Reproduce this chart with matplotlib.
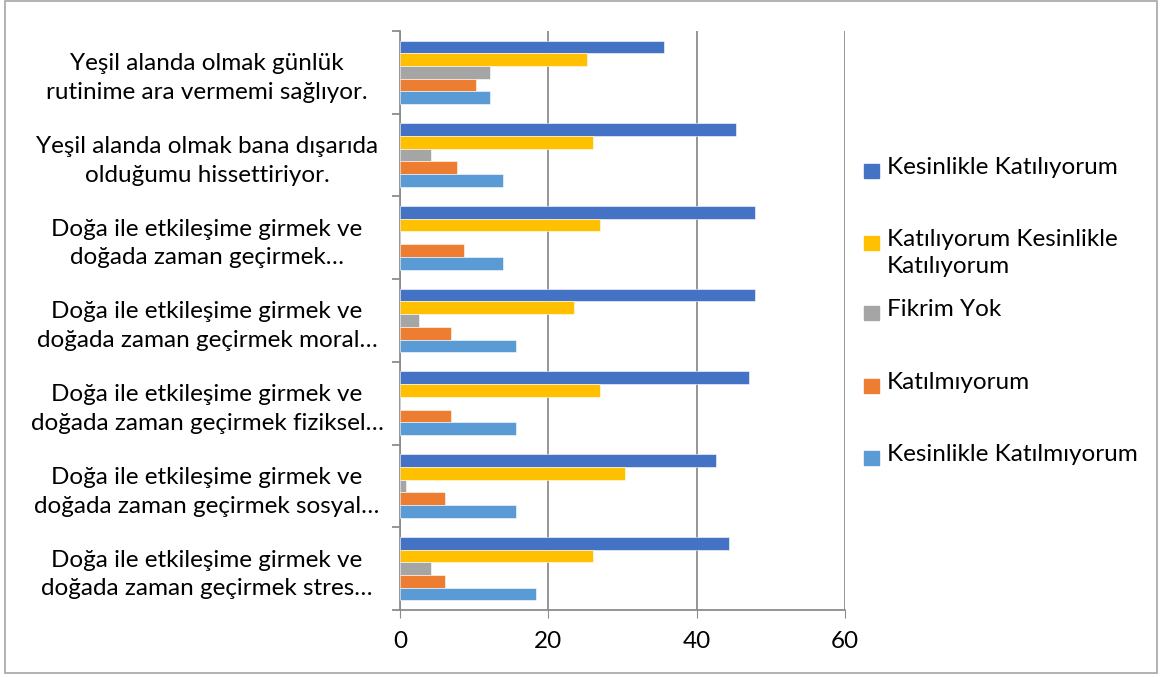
import matplotlib
matplotlib.use('Agg')
import matplotlib.pyplot as plt
from matplotlib.patches import Rectangle
import numpy as np

plt.rcParams['font.family'] = ['Lato', 'DejaVu Sans']

# categories, top to bottom as shown
categories = [
    'Yeşil alanda olmak günlük\nrutinime ara vermemi sağlıyor.',
    'Yeşil alanda olmak bana dışarıda\nolduğumu hissettiriyor.',
    'Doğa ile etkileşime girmek ve\ndoğada zaman geçirmek…',
    'Doğa ile etkileşime girmek ve\ndoğada zaman geçirmek moral…',
    'Doğa ile etkileşime girmek ve\ndoğada zaman geçirmek fiziksel…',
    'Doğa ile etkileşime girmek ve\ndoğada zaman geçirmek sosyal…',
    'Doğa ile etkileşime girmek ve\ndoğada zaman geçirmek stres…',
]

series_names = ['Kesinlikle Katılıyorum', 'Katılıyorum Kesinlikle\nKatılıyorum',
                'Fikrim Yok', 'Katılmıyorum', 'Kesinlikle Katılmıyorum']
kesinlikle_katiliyorum = [35.6, 45.3, 47.8, 47.8, 47.0, 42.6, 44.3]
katiliyorum = [25.2, 26.0, 27.0, 23.4, 27.0, 30.4, 26.0]
fikrim_yok = [12.1, 4.2, 0, 2.5, 0, 0.8, 4.2]
katilmiyorum = [10.3, 7.7, 8.6, 6.9, 6.9, 6.0, 6.0]
kesinlikle_katilmiyorum = [12.1, 13.9, 13.9, 15.7, 15.7, 15.7, 18.3]
x_ticks = [0, 20, 40, 60]

values = [kesinlikle_katiliyorum, katiliyorum, fikrim_yok, katilmiyorum, kesinlikle_katilmiyorum]
colors = ['#4472C4', '#FFC000', '#A5A5A5', '#ED7D31', '#5B9BD5']

fig = plt.figure(figsize=(11.61, 6.77), dpi=100)
ax = fig.add_axes([400 / 1161, 1 - 610 / 677, 445 / 1161, 579 / 677])

n = len(categories)
y = np.arange(n)[::-1]
h = 0.154
for i, (vals, c) in enumerate(zip(values, colors)):
    ax.barh(y + (2 - i) * h, vals, height=h, color=c, edgecolor='white', linewidth=0.4, zorder=3)

ax.set_xlim(0, 60)
ax.set_ylim(-0.5, n - 0.5)
ax.set_xticks(x_ticks)
ax.tick_params(axis='x', labelsize=17.5, length=6, color='#8c8c8c', pad=9)
ax.grid(axis='x', color='#8c8c8c', linewidth=1.3, zorder=0)

ax.set_yticks(y)
ax.set_yticklabels(categories, ha='center', multialignment='center', linespacing=1.45, fontsize=17.5)
ax.tick_params(axis='y', length=0, pad=139)
ax.set_yticks(np.arange(n + 1) - 0.5, minor=True)
ax.tick_params(axis='y', which='minor', length=6, color='#8c8c8c', width=1.3)

for s in ['top', 'right']:
    ax.spines[s].set_visible(False)
for s in ['left', 'bottom']:
    ax.spines[s].set_color('#8c8c8c')
    ax.spines[s].set_linewidth(1.3)

# legend drawn by hand to follow the original spacing
leg_y = [171, 243, 313, 386, 458]
for name, c, ly in zip(series_names, colors, leg_y):
    fig.add_artist(Rectangle((864 / 1161, 1 - (ly + 7) / 677), 15 / 1161, 14 / 677,
                             transform=fig.transFigure, color=c))
    fig.text(887 / 1161, 1 - (ly - 14) / 677, name, fontsize=17.5, va='top', ha='left',
             linespacing=1.35)

fig.add_artist(Rectangle((5 / 1161, 4 / 677), 1152 / 1161, 672 / 677, transform=fig.transFigure,
                         fill=False, edgecolor='#a6a6a6', linewidth=1.2))

fig.savefig('out.png', dpi=100)
